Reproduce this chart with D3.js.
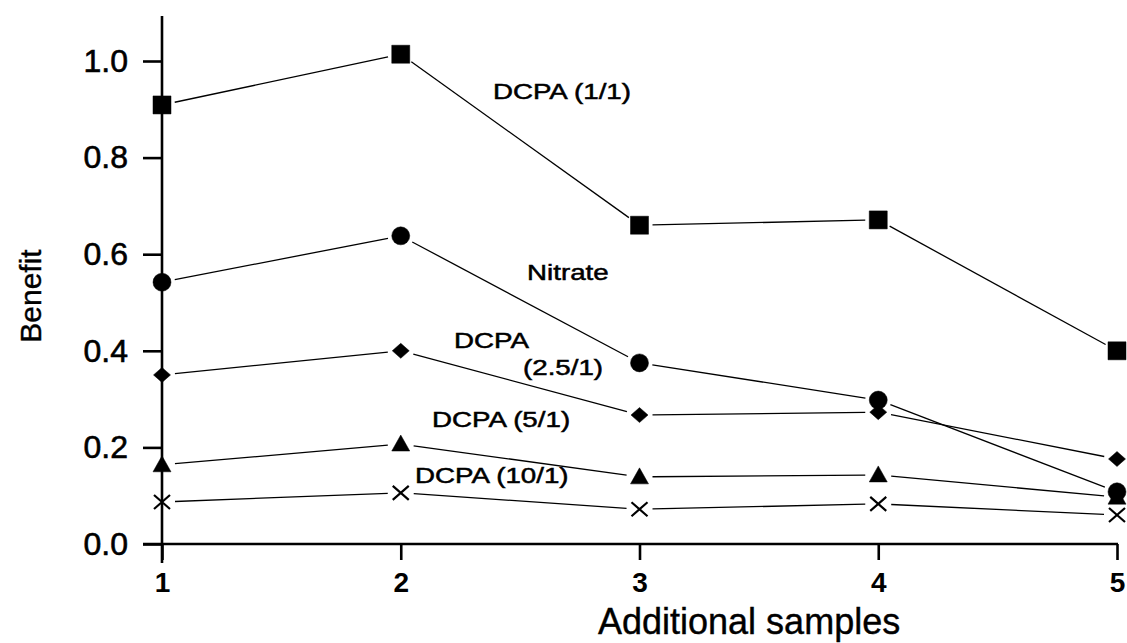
<!DOCTYPE html>
<html>
<head>
<meta charset="utf-8">
<script src="https://cdn.jsdelivr.net/npm/d3@7"></script>
<style>
  html, body { margin: 0; padding: 0; background: #fff; }
  svg { display: block; font-family: "Liberation Sans", Arial, Helvetica, sans-serif; }
</style>
</head>
<body>
<svg id="chart" width="1127" height="643"></svg>
<script>
// ---- data ----
const samples = [1, 2, 3, 4, 5];
const yTicks = [0.0, 0.2, 0.4, 0.6, 0.8, 1.0];
const dcpa1 = [0.909, 1.014, 0.660, 0.671, 0.400];
const nitrate = [0.542, 0.638, 0.375, 0.298, 0.108];
const dcpa25 = [0.350, 0.400, 0.267, 0.273, 0.176];
const dcpa5 = [0.164, 0.207, 0.139, 0.143, 0.097];
const dcpa10 = [0.087, 0.106, 0.072, 0.083, 0.060];
const seriesNames = ["DCPA (1/1)", "Nitrate", "DCPA (2.5/1)", "DCPA (5/1)", "DCPA (10/1)"];
const seriesMarkers = ["square", "circle", "diamond", "triangle", "cross"];
// label text lines and anchor positions in data units (x sample, y benefit)
const labelTexts = ["DCPA (1/1)", "Nitrate", "DCPA", "(2.5/1)", "DCPA (5/1)", "DCPA (10/1)"];
const labelX = [2.386, 2.529, 2.223, 2.512, 2.131, 2.060];
const labelY = [0.921, 0.547, 0.406, 0.350, 0.242, 0.126];

const allSeries = [dcpa1, nitrate, dcpa25, dcpa5, dcpa10];

// ---- layout ----
const svg = d3.select("#chart");
const x = d3.scaleLinear().domain([1, 5]).range([162, 1117]);
const y = d3.scaleLinear().domain([0, 1]).range([544, 61]);

// axis lines
const axG = svg.append("g");
axG.append("line").attr("x1", x(1)).attr("x2", x(1)).attr("y1", 16).attr("y2", 563)
  .attr("stroke", "#000").attr("stroke-width", 2.6);
axG.append("line").attr("x1", 143).attr("x2", x(5) + 1).attr("y1", y(0)).attr("y2", y(0))
  .attr("stroke", "#000").attr("stroke-width", 2.6);

// y axis
const yAxis = d3.axisLeft(y).tickValues(yTicks).tickFormat(d3.format(".1f"))
  .tickSize(19).tickPadding(15);
const gy = svg.append("g").attr("transform", `translate(${x(1)},0)`).call(yAxis);
gy.select(".domain").remove();
gy.selectAll(".tick line").attr("stroke", "#000").attr("stroke-width", 2.6);
gy.selectAll(".tick text").attr("font-size", 32).attr("fill", "#000")
  .attr("stroke", "#000").attr("stroke-width", 0.6)
  .attr("font-family", "Liberation Sans, Arial, sans-serif");

// x axis
const xAxis = d3.axisBottom(x).tickValues(samples).tickFormat(d3.format("d"))
  .tickSize(16).tickPadding(12);
const gx = svg.append("g").attr("transform", `translate(0,${y(0)})`).call(xAxis);
gx.select(".domain").remove();
gx.selectAll(".tick line").attr("stroke", "#000").attr("stroke-width", 2.6);
gx.selectAll(".tick text").attr("font-size", 28).attr("font-weight", "bold").attr("fill", "#000")
  .attr("font-family", "Liberation Sans, Arial, sans-serif");

// axis titles
svg.append("text").attr("x", 598).attr("y", 634).attr("font-size", 36).attr("fill", "#000")
  .attr("stroke", "#000").attr("stroke-width", 0.4)
  .text("Additional samples");
svg.append("text").attr("transform", "translate(41,296) rotate(-90)").attr("text-anchor", "middle")
  .attr("font-size", 30).attr("fill", "#000").attr("stroke", "#000").attr("stroke-width", 0.4)
  .text("Benefit");

// ---- lines with gaps near markers ----
const gap = 13;
allSeries.forEach((vals) => {
  const pts = vals.map((v, i) => [x(samples[i]), y(v)]);
  for (let i = 0; i < pts.length - 1; i++) {
    const [x0, y0] = pts[i], [x1, y1] = pts[i + 1];
    const dx = x1 - x0, dy = y1 - y0, len = Math.hypot(dx, dy);
    const ux = dx / len, uy = dy / len;
    svg.append("line")
      .attr("x1", x0 + ux * gap).attr("y1", y0 + uy * gap)
      .attr("x2", x1 - ux * gap).attr("y2", y1 - uy * gap)
      .attr("stroke", "#000").attr("stroke-width", 1.3);
  }
});

// ---- markers ----
const shapes = {
  square: { draw(c) { c.rect(-9, -9, 18, 18); } },
  circle: { draw(c) { c.moveTo(9, 0); c.arc(0, 0, 9, 0, 2 * Math.PI); } },
  diamond: { draw(c) { c.moveTo(0, -7.5); c.lineTo(8.5, 0); c.lineTo(0, 7.5); c.lineTo(-8.5, 0); c.closePath(); } },
  triangle: { draw(c) { c.moveTo(0, -9); c.lineTo(9, 7); c.lineTo(-9, 7); c.closePath(); } },
  cross: { draw(c) { c.moveTo(-8, -7); c.lineTo(8, 7); c.moveTo(8, -7); c.lineTo(-8, 7); } }
};
allSeries.forEach((vals, si) => {
  const m = seriesMarkers[si];
  const sym = d3.symbol().type(shapes[m]);
  svg.append("g").selectAll("path").data(vals).join("path")
    .attr("transform", (v, i) => `translate(${x(samples[i])},${y(v)})`)
    .attr("d", sym)
    .attr("fill", m === "cross" ? "none" : "#000")
    .attr("stroke", "#000")
    .attr("stroke-width", m === "cross" ? 2.2 : 0.5);
});

// ---- series labels ----
svg.append("g").selectAll("text").data(labelTexts).join("text")
  .attr("transform", (d, i) => `translate(${x(labelX[i])},${y(labelY[i])}) scale(1.26,1)`)
  .attr("font-size", 22)
  .attr("fill", "#000")
  .attr("stroke", "#000")
  .attr("stroke-width", 0.5)
  .text(d => d);
</script>
</body>
</html>
